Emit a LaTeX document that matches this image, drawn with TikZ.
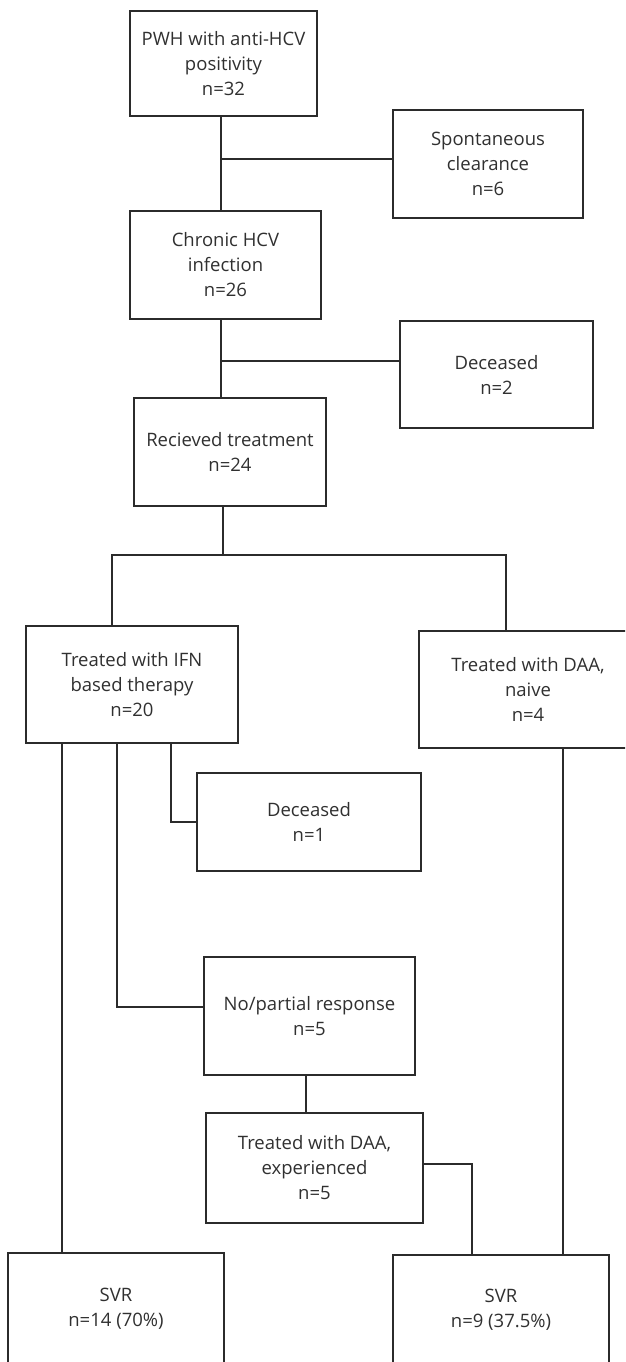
\documentclass[tikz,border=0pt]{standalone}
\usepackage{fontspec}
\setmainfont{Open Sans}
\definecolor{boxline}{HTML}{2B2B2B}
\definecolor{boxtext}{HTML}{303030}
\tikzset{
    flowbox/.style={draw=boxline, line width=1.1pt, align=center, inner sep=0pt, text=boxtext, font=\fontsize{18.5}{25}\selectfont},
    link/.style={draw=boxline, line width=1.1pt}
}
\begin{document}
\begin{tikzpicture}[x=1pt, y=-1pt]
            \useasboundingbox (0,0) rectangle (625,1362);
            \clip (0,0) rectangle (625,1362);

            \node[flowbox, minimum width=187pt, minimum height=105pt] (pwh) at (223.5,63.5) {PWH with anti-HCV\\positivity\\n=32};
            \node[flowbox, minimum width=190pt, minimum height=108pt] (spont) at (488,164) {Spontaneous\\clearance\\n=6};
            \node[flowbox, minimum width=191pt, minimum height=108pt] (chronic) at (225.5,265) {Chronic HCV\\infection\\n=26};
            \node[flowbox, minimum width=193pt, minimum height=107pt] (decA) at (496.5,374.5) {Deceased\\n=2};
            \node[flowbox, minimum width=192pt, minimum height=108pt] (recv) at (230,452) {Recieved treatment\\n=24};
            \node[flowbox, minimum width=212pt, minimum height=117pt] (ifn) at (132,684.5) {Treated with IFN\\based therapy\\n=20};
            \node[flowbox, minimum width=218pt, minimum height=117pt] (naive) at (528,689.5) {Treated with DAA,\\naive\\n=4};
            \node[flowbox, minimum width=224pt, minimum height=98pt] (decB) at (309,822) {Deceased\\n=1};
            \node[flowbox, minimum width=211pt, minimum height=118pt] (nopart) at (309.5,1016) {No/partial response\\n=5};
            \node[flowbox, minimum width=217pt, minimum height=110pt] (exper) at (314.5,1168) {Treated with DAA,\\experienced\\n=5};
            \node[flowbox, minimum width=216pt, minimum height=111pt] (svrA) at (116,1308.5) {SVR\\n=14 (70\%)};
            \node[flowbox, minimum width=216pt, minimum height=109pt] (svrB) at (501,1309.5) {SVR\\n=9 (37.5\%)};

            \coordinate (trunk) at (221,0);
            \coordinate (split) at (223,555);
            \coordinate (colL) at (112,0);
            \coordinate (colR) at (506,0);
            \coordinate (colA) at (62,0);
            \coordinate (colB) at (117,0);
            \coordinate (colC) at (171,0);
            \coordinate (colD) at (306,0);
            \coordinate (colE) at (472,0);
            \coordinate (colF) at (563,0);

            \draw[link] (pwh.south -| trunk) -- (chronic.north -| trunk);
            \draw[link] ([yshift=5pt]spont.west) -- ([yshift=5pt]spont.west -| trunk);
            \draw[link] (chronic.south -| trunk) -- (recv.north -| trunk);
            \draw[link] ([yshift=13.5pt]decA.west) -- ([yshift=13.5pt]decA.west -| trunk);

            \draw[link] (recv.south -| split) -- (split);
            \draw[link] (ifn.north -| colL) |- (split) -| (naive.north -| colR);

            \draw[link] (ifn.south -| colA) -- (svrA.north -| colA);
            \draw[link] (ifn.south -| colB) |- ([yshift=9pt]nopart.west);
            \draw[link] (ifn.south -| colC) |- (decB.west);
            \draw[link] (nopart.south -| colD) -- (exper.north -| colD);
            \draw[link] ([yshift=4pt]exper.east) -| (svrB.north -| colE);
            \draw[link] (naive.south -| colF) -- (svrB.north -| colF);
        \end{tikzpicture}
\end{document}
